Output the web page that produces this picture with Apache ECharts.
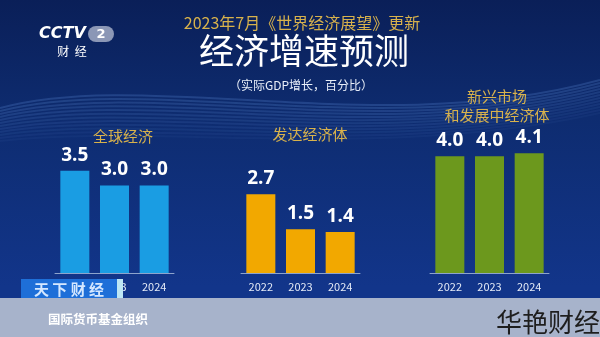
<!DOCTYPE html>
<html><head><meta charset="utf-8">
<script src="https://cdn.jsdelivr.net/npm/echarts@6/dist/echarts.min.js"></script>
<style>html,body{margin:0;padding:0;background:#0c2563}#c{width:600px;height:337px}</style>
</head><body><div id="c"></div>
<script>
const years = ['2022', '2023', '2024'];
const globalVals = [3.5, 3.0, 3.0];
const advancedVals = [2.7, 1.5, 1.4];
const emergingVals = [4.0, 4.0, 4.1];
const panelTitles = ['全球经济', '发达经济体', '新兴市场\n和发展中经济体'];

const F = '"Noto Sans CJK SC","Noto Sans",sans-serif';
const chart = echarts.init(document.getElementById('c'));
const grids = [
  {left: 55, width: 119, top: 127, height: 146},
  {left: 241, width: 119, top: 127, height: 146},
  {left: 430, width: 119, top: 127, height: 146}
];
const colors = ['#1a9de3', '#f2a800', '#6c981d'];
const vals = [globalVals, advancedVals, emergingVals];
const waves = [];
for (let k = 0; k < 12; k++) {
  waves.push({type: 'bezierCurve', z: -10, silent: true,
    shape: {x1: 0, y1: 108 + k * 3, cpx1: 150, cpy1: 68 + k * 5, cpx2: 380, cpy2: 140 + k * 2, x2: 600, y2: 80 + k * 3},
    style: {fill: null, stroke: 'rgba(110,160,235,' + (0.22 - k * 0.015) + ')', lineWidth: 2}});
}
chart.setOption({
  backgroundColor: {
    type: 'linear', x: 0, y: 0, x2: 0, y2: 1,
    colorStops: [{offset: 0, color: '#0a1f58'}, {offset: 0.35, color: '#0e2c70'}, {offset: 0.85, color: '#12358a'}]
  },
  grid: grids,
  xAxis: grids.map((g, i) => ({
    gridIndex: i, type: 'category', data: years,
    axisLine: {lineStyle: {color: '#8ea4cc', width: 1}},
    axisTick: {show: false},
    axisLabel: {color: '#e4eaf6', fontSize: 11, margin: 8, fontFamily: F}
  })),
  yAxis: grids.map((g, i) => ({
    gridIndex: i, type: 'value', min: 0, max: 5, show: false, splitLine: {show: false}
  })),
  series: vals.map((v, i) => ({
    type: 'bar', xAxisIndex: i, yAxisIndex: i, data: v, barWidth: 29,
    itemStyle: {color: colors[i]},
    label: {show: true, position: 'top', distance: 6, color: '#ffffff', fontSize: 19,
      fontWeight: 'bold', fontFamily: '"Open Sans",sans-serif',
      formatter: p => p.value.toFixed(1)}
  })),
  title: [
    {text: '2023年7月《世界经济展望》更新', left: 297, top: 10, textAlign: 'center',
      textStyle: {color: '#d8b24c', fontSize: 16, fontWeight: 'normal', fontFamily: F}},
    {text: '经济增速预测', left: 299, top: 28, textAlign: 'center',
      textStyle: {color: '#ffffff', fontSize: 35, fontWeight: 'normal', fontFamily: F}},
    {text: '（实际GDP增长，百分比）', left: 296, top: 74, textAlign: 'center',
      textStyle: {color: '#e8eef8', fontSize: 12, fontWeight: 'normal', fontFamily: F}},
    {text: panelTitles[0], left: 118, top: 124, textAlign: 'center',
      textStyle: {color: '#d8b24c', fontSize: 15, fontWeight: 'normal', fontFamily: F}},
    {text: panelTitles[1], left: 305, top: 122, textAlign: 'center',
      textStyle: {color: '#d8b24c', fontSize: 15, fontWeight: 'normal', fontFamily: F}},
    {text: panelTitles[2], left: 492, top: 82, textAlign: 'center',
      textStyle: {color: '#d8b24c', fontSize: 15, fontWeight: 'normal', lineHeight: 19, fontFamily: F}}
  ],
  graphic: waves.concat([
    {type: 'text', left: 39, top: 26, style: {text: 'CCTV', fill: '#ffffff', font: 'italic bold 16px "DejaVu Sans", sans-serif'}},
    {type: 'rect', shape: {x: 88, y: 26, width: 26, height: 16, r: 8}, style: {fill: '#8b97b6'}},
    {type: 'text', x: 101, y: 34.5, style: {text: '2', fill: '#ffffff', font: 'bold 13px "DejaVu Sans", sans-serif', textAlign: 'center', textVerticalAlign: 'middle'}},
    {type: 'text', x: 72, y: 51, style: {text: '财  经', fill: '#ffffff', font: '12px "Noto Sans CJK SC"', textAlign: 'center', textVerticalAlign: 'middle'}},
    {type: 'rect', z: 20, shape: {x: 0, y: 298, width: 600, height: 39}, style: {fill: '#a7b3cb'}},
    {type: 'text', z: 21, x: 48, y: 319, style: {text: '国际货币基金组织', fill: '#ffffff', font: 'bold 12.5px "Noto Sans CJK SC"', textVerticalAlign: 'middle'}},
    {type: 'rect', z: 21, shape: {x: 21, y: 279, width: 96, height: 19}, style: {fill: '#1e6fd8'}},
    {type: 'rect', z: 21, shape: {x: 117, y: 279, width: 6, height: 19}, style: {fill: '#bde6f4'}},
    {type: 'text', z: 22, x: 69, y: 289, style: {text: '天 下 财 经', fill: '#d5e8ff', font: 'bold 15px "Noto Sans CJK SC"', textAlign: 'center', textVerticalAlign: 'middle'}},
    {type: 'text', z: 22, x: 600, y: 322, style: {text: '华艳财经', fill: '#1e1e1e', font: '26px "Noto Sans CJK SC"', textAlign: 'right', textVerticalAlign: 'middle'}}
  ])
});
</script></body></html>
